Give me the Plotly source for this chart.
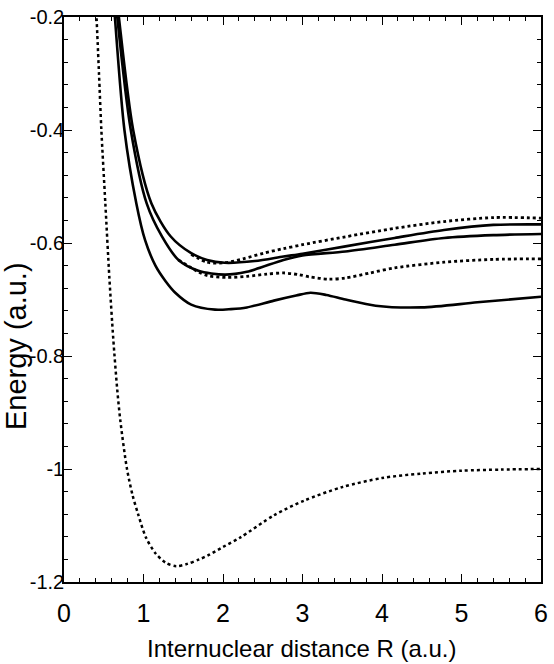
import plotly.graph_objects as go

# Ground state (dotted, lowest)
R_ground = [0.40, 0.44, 0.47, 0.52, 0.57, 0.62, 0.67, 0.71, 0.79, 0.86, 0.93, 1.03, 1.15, 1.28, 1.41,
            1.55, 1.70, 1.81, 2.00, 2.22, 2.64, 3.02, 3.50, 4.00, 4.50, 5.00, 5.50, 6.00]
E_ground = [-0.17, -0.30, -0.40, -0.53, -0.66, -0.77, -0.86, -0.916, -0.998, -1.045, -1.079, -1.121, -1.149,
            -1.166, -1.172, -1.168, -1.160, -1.153, -1.138, -1.121, -1.082, -1.056, -1.032, -1.016, -1.008,
            -1.003, -1.001, -1.000]

# Solid curves
R_A = [0.60, 0.64, 0.76, 0.91, 1.02, 1.15, 1.28, 1.40, 1.60, 1.90, 2.10, 2.30, 2.64, 2.92, 3.10, 3.30,
       3.54, 3.92, 4.50, 5.20, 6.00]
E_A = [-0.12, -0.20, -0.40, -0.53, -0.595, -0.640, -0.668, -0.688, -0.709, -0.718, -0.717, -0.714, -0.702,
       -0.693, -0.688, -0.692, -0.700, -0.711, -0.714, -0.705, -0.695]

R_B = [0.62, 0.67, 0.84, 1.04, 1.23, 1.44, 1.69, 2.02, 2.30, 2.76, 3.00, 3.54, 4.16, 4.78, 5.40, 6.00]
E_B = [-0.12, -0.20, -0.40, -0.53, -0.588, -0.630, -0.649, -0.656, -0.651, -0.630, -0.622, -0.615,
       -0.603, -0.591, -0.586, -0.584]

R_C = [0.63, 0.69, 0.87, 1.10, 1.34, 1.60, 1.80, 2.02, 2.40, 2.76, 3.00, 3.54, 4.16, 4.78, 5.40, 6.00]
E_C = [-0.12, -0.20, -0.40, -0.53, -0.588, -0.618, -0.630, -0.635, -0.632, -0.624, -0.619, -0.606,
       -0.591, -0.577, -0.568, -0.567]

# Dotted excited curves
R_D = [1.44, 1.69, 1.81, 2.05, 2.30, 2.55, 2.76, 2.95, 3.09, 3.33, 3.54, 3.85, 4.16, 4.78, 5.40, 6.00]
E_D = [-0.630, -0.651, -0.658, -0.661, -0.659, -0.655, -0.653, -0.656, -0.660, -0.664, -0.662, -0.653,
       -0.644, -0.634, -0.629, -0.628]

R_E = [1.60, 1.80, 2.02, 2.25, 2.51, 2.76, 3.00, 3.54, 4.16, 4.78, 5.40, 6.00]
E_E = [-0.620, -0.634, -0.635, -0.628, -0.618, -0.610, -0.603, -0.589, -0.574, -0.562, -0.555, -0.556]

x_ticks = [0, 1, 2, 3, 4, 5, 6]
x_tick_text = ["0", "1", "2", "3", "4", "5", "6"]
y_ticks = [-1.2, -1.0, -0.8, -0.6, -0.4, -0.2]
y_tick_text = ["-1.2", "-1", "-0.8", "-0.6", "-0.4", "-0.2"]

x_title = "Internuclear distance R (a.u.)"
y_title = "Energy (a.u.)"

font_fam = "Liberation Sans, Arial, sans-serif"

fig = go.Figure()

def add(x, y, dash, width):
    fig.add_trace(go.Scatter(x=x, y=y, mode="lines",
                             line=dict(color="black", width=width, dash=dash, shape="spline", smoothing=0.8),
                             showlegend=False, hoverinfo="skip"))

add(R_ground, E_ground, "dot", 2.5)
add(R_A, E_A, "solid", 2.6)
add(R_B, E_B, "solid", 2.6)
add(R_C, E_C, "solid", 2.6)
add(R_D, E_D, "dot", 2.8)
add(R_E, E_E, "dot", 2.8)

axis_common = dict(
    showline=True, linecolor="black", linewidth=1.5, mirror="ticks",
    ticks="inside", ticklen=8, tickwidth=1.2, tickcolor="black",
    showgrid=False, zeroline=False,
)

fig.update_xaxes(range=[0, 6], tickvals=x_ticks, ticktext=x_tick_text,
                 tickfont=dict(family=font_fam, size=25, color="black"),
                 ticklabelstandoff=8,
                 minor=dict(dtick=0.2, tick0=0, ticks="inside", ticklen=4, tickwidth=1, tickcolor="black"),
                 **axis_common)
fig.update_yaxes(range=[-1.2, -0.19999], tickvals=y_ticks, ticktext=y_tick_text,
                 tickfont=dict(family=font_fam, size=20, color="black"),
                 ticklabelstandoff=-6,
                 minor=dict(dtick=0.04, tick0=-1.2, ticks="inside", ticklen=4, tickwidth=1, tickcolor="black"),
                 **axis_common)

fig.add_annotation(text=x_title, xref="paper", yref="paper", x=0.498, y=-0.091,
                   xanchor="center", yanchor="top", showarrow=False,
                   font=dict(family=font_fam, size=24, color="black"))
fig.add_annotation(text=y_title, xref="paper", yref="paper", x=(-3 - 64) / 484, y=(582 - 344) / 570,
                   xanchor="left", yanchor="middle", textangle=-90, showarrow=False,
                   font=dict(family=font_fam, size=29, color="black"))

fig.update_layout(width=554, height=664, margin=dict(l=64, r=6, t=12, b=82),
                  plot_bgcolor="white", paper_bgcolor="white")

fig.write_html("out.html")
